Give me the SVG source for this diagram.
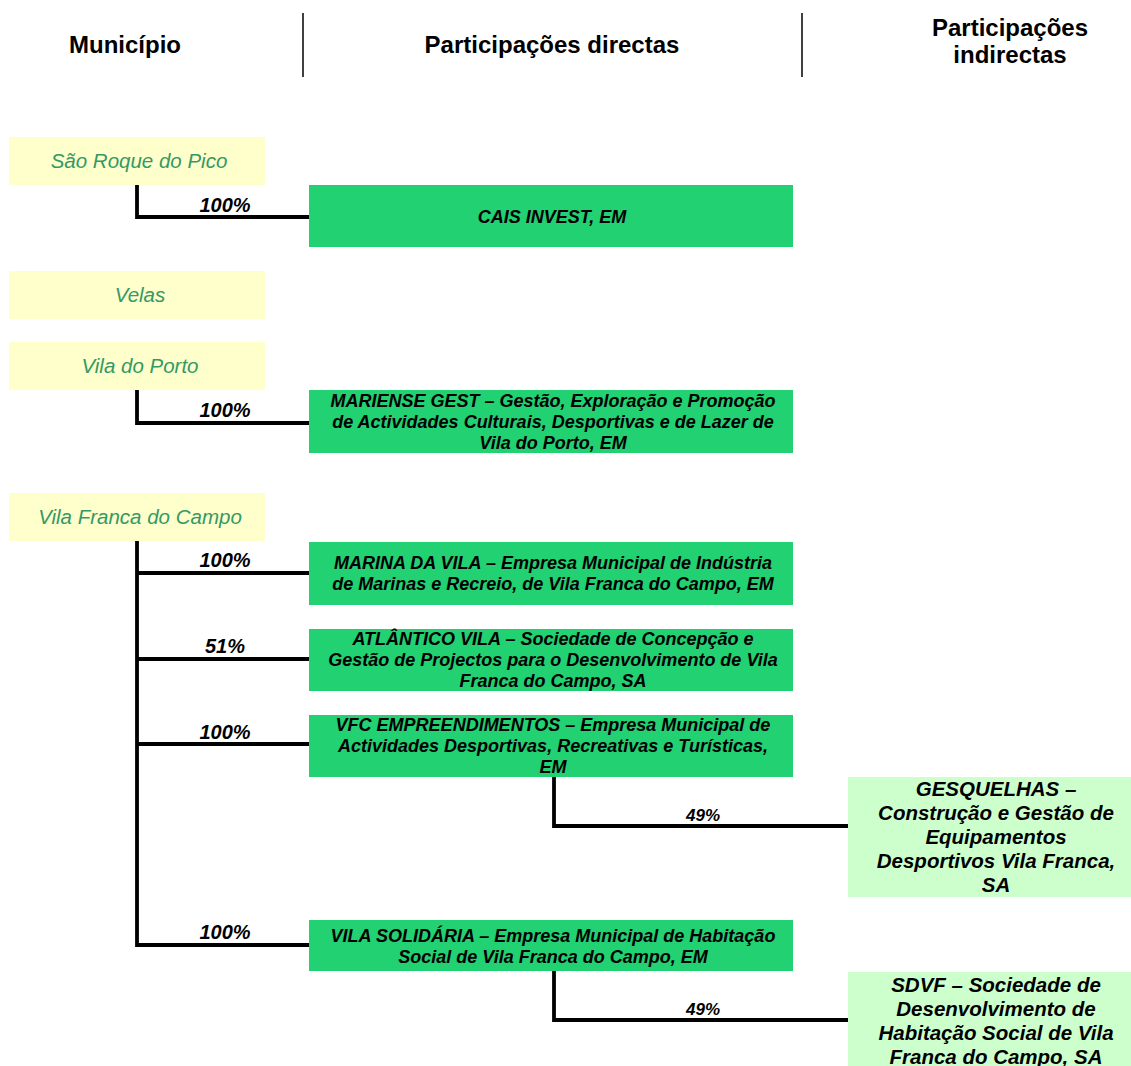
<svg xmlns="http://www.w3.org/2000/svg" width="1131" height="1066" viewBox="0 0 1131 1066">
<style>
.hdr{font-family:"Liberation Sans",Arial,sans-serif;font-weight:bold;font-size:24px;fill:#000;text-anchor:middle}
.mun rect{fill:#FFFFCC}
.mun text{font-family:"Liberation Sans",Arial,sans-serif;font-style:italic;font-size:20.5px;fill:#339966;text-anchor:middle}
.dir rect{fill:#22D172}
.dir text{font-family:"Liberation Sans",Arial,sans-serif;font-style:italic;font-weight:bold;font-size:18px;fill:#000;text-anchor:middle}
.ind rect{fill:#CCFFCC}
.ind text{font-family:"Liberation Sans",Arial,sans-serif;font-style:italic;font-weight:bold;font-size:20.5px;fill:#000;text-anchor:middle}
.conn path{fill:none;stroke:#000;stroke-width:3.8}
.pct{font-family:"Liberation Sans",Arial,sans-serif;font-style:italic;font-weight:bold;font-size:20px;fill:#000;text-anchor:middle}
.pct2{font-family:"Liberation Sans",Arial,sans-serif;font-style:italic;font-weight:bold;font-size:17px;fill:#000;text-anchor:middle}
.div{stroke:#000;stroke-width:1.5}
</style>
<g id="header">
<text class="hdr" x="125" y="53">Município</text>
<line class="div" x1="303" y1="13" x2="303" y2="77"/>
<text class="hdr" x="552" y="53">Participações directas</text>
<line class="div" x1="802" y1="13" x2="802" y2="77"/>
<text class="hdr" x="1010" y="36">Participações</text>
<text class="hdr" x="1010" y="63">indirectas</text>
</g>
<g id="connectors" class="conn">
<path d="M137 185 V217 H309"/>
<path d="M137 390 V423 H309"/>
<path d="M137 541 V945 H309 M137 573 H309 M137 659 H309 M137 744 H309"/>
<path d="M554 777 V826 H848"/>
<path d="M554 971 V1020 H848"/>
<text class="pct" x="225" y="212">100%</text>
<text class="pct" x="225" y="417">100%</text>
<text class="pct" x="225" y="567">100%</text>
<text class="pct" x="225" y="653">51%</text>
<text class="pct" x="225" y="739">100%</text>
<text class="pct" x="225" y="939">100%</text>
<text class="pct2" x="703" y="821">49%</text>
<text class="pct2" x="703" y="1015">49%</text>
</g>
<g id="m-saoroque" class="mun"><rect x="9" y="137" width="256" height="48"/><text x="139" y="168">São Roque do Pico</text></g>
<g id="m-velas" class="mun"><rect x="9" y="271" width="256" height="48"/><text x="140" y="302">Velas</text></g>
<g id="m-viladoporto" class="mun"><rect x="9" y="342" width="256" height="48"/><text x="140" y="373">Vila do Porto</text></g>
<g id="m-vilafranca" class="mun"><rect x="9" y="493" width="256" height="48"/><text x="140" y="524">Vila Franca do Campo</text></g>
<g id="d-cais" class="dir"><rect x="309" y="185" width="484" height="62"/><text x="552" y="223">CAIS INVEST, EM</text></g>
<g id="d-mariense" class="dir"><rect x="309" y="390" width="484" height="63"/>
<text x="553" y="407">MARIENSE GEST – Gestão, Exploração e Promoção</text>
<text x="553" y="428">de Actividades Culturais, Desportivas e de Lazer de</text>
<text x="553" y="449">Vila do Porto, EM</text></g>
<g id="d-marina" class="dir"><rect x="309" y="542" width="484" height="63"/>
<text x="553" y="569">MARINA DA VILA – Empresa Municipal de Indústria</text>
<text x="553" y="590">de Marinas e Recreio, de Vila Franca do Campo, EM</text></g>
<g id="d-atlantico" class="dir"><rect x="309" y="629" width="484" height="62"/>
<text x="553" y="645">ATLÂNTICO VILA – Sociedade de Concepção e</text>
<text x="553" y="666">Gestão de Projectos para o Desenvolvimento de Vila</text>
<text x="553" y="687">Franca do Campo, SA</text></g>
<g id="d-vfc" class="dir"><rect x="309" y="715" width="484" height="62"/>
<text x="553" y="731">VFC EMPREENDIMENTOS – Empresa Municipal de</text>
<text x="553" y="752">Actividades Desportivas, Recreativas e Turísticas,</text>
<text x="553" y="773">EM</text></g>
<g id="d-solidaria" class="dir"><rect x="309" y="920" width="484" height="51"/>
<text x="553" y="942">VILA SOLIDÁRIA – Empresa Municipal de Habitação</text>
<text x="553" y="963">Social de Vila Franca do Campo, EM</text></g>
<g id="i-gesquelhas" class="ind"><rect x="848" y="777" width="283" height="120"/>
<text x="996" y="796">GESQUELHAS –</text>
<text x="996" y="820">Construção e Gestão de</text>
<text x="996" y="844">Equipamentos</text>
<text x="996" y="868">Desportivos Vila Franca,</text>
<text x="996" y="892">SA</text></g>
<g id="i-sdvf" class="ind"><rect x="848" y="972" width="283" height="94"/>
<text x="996" y="992">SDVF – Sociedade de</text>
<text x="996" y="1016">Desenvolvimento de</text>
<text x="996" y="1040">Habitação Social de Vila</text>
<text x="996" y="1064">Franca do Campo, SA</text></g>
</svg>
